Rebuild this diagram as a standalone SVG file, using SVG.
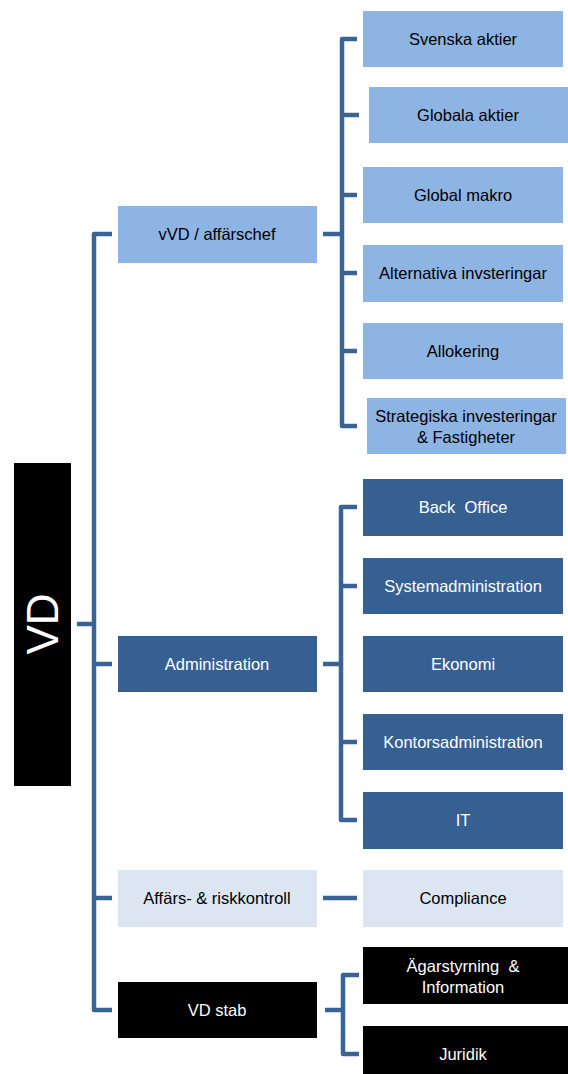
<svg xmlns="http://www.w3.org/2000/svg" width="568" height="1074" viewBox="0 0 568 1074">
<style>
.c{fill:none;stroke:#3a6395;stroke-width:4.5;stroke-linejoin:round}
.lb{fill:#8eb4e3}
.db{fill:#376092}
.gb{fill:#dce6f2}
.bk{fill:#000}
text{font-family:"Liberation Sans",Arial,sans-serif;font-size:16.5px;text-anchor:middle;dominant-baseline:central}
.dk{fill:#000}
.wt{fill:#fff}
</style>
<rect width="568" height="1074" fill="#fff"/>
<g id="connectors">
<path class="c" d="M77 624H94"/>
<path class="c" d="M112 234H94V1010H112"/>
<path class="c" d="M94 664H112"/>
<path class="c" d="M94 898H112"/>
<path class="c" d="M323 234H342"/>
<path class="c" d="M357 39H342V426H357"/>
<path class="c" d="M342 115H359"/>
<path class="c" d="M342 195H357"/>
<path class="c" d="M342 273H357"/>
<path class="c" d="M342 351H357"/>
<path class="c" d="M323 664H341"/>
<path class="c" d="M357 507H341V820H357"/>
<path class="c" d="M341 586H357"/>
<path class="c" d="M341 742H357"/>
<path class="c" d="M323 898H357"/>
<path class="c" d="M325 1010H343"/>
<path class="c" d="M359 975H343V1054H359"/>
</g>
<g id="vd"><rect class="bk" x="14" y="463" width="57" height="323"/><text class="wt" transform="translate(42 624) rotate(-90)" style="font-size:44px">VD</text></g>
<g id="vvd"><rect class="lb" x="118" y="206" width="199" height="57"/><text class="dk" x="217" y="234">vVD / affärschef</text></g>
<g id="admin"><rect class="db" x="118" y="636" width="199" height="56"/><text class="wt" x="217" y="664">Administration</text></g>
<g id="affars"><rect class="gb" x="118" y="870" width="199" height="57"/><text class="dk" x="217" y="898">Affärs- &amp; riskkontroll</text></g>
<g id="vdstab"><rect class="bk" x="118" y="982" width="199" height="56"/><text class="wt" x="217" y="1010">VD stab</text></g>
<g id="svenska"><rect class="lb" x="363" y="11" width="200" height="56"/><text class="dk" x="463" y="39">Svenska aktier</text></g>
<g id="globala"><rect class="lb" x="369" y="87" width="199" height="56"/><text class="dk" x="468" y="115">Globala aktier</text></g>
<g id="makro"><rect class="lb" x="363" y="167" width="200" height="56"/><text class="dk" x="463" y="195">Global makro</text></g>
<g id="alternativa"><rect class="lb" x="363" y="245" width="200" height="57"/><text class="dk" x="463" y="273">Alternativa invsteringar</text></g>
<g id="allokering"><rect class="lb" x="363" y="323" width="200" height="56"/><text class="dk" x="463" y="351">Allokering</text></g>
<g id="strategiska"><rect class="lb" x="367" y="398" width="199" height="56"/><text class="dk" x="466" y="416">Strategiska investeringar</text><text class="dk" x="466" y="437">&amp; Fastigheter</text></g>
<g id="backoffice"><rect class="db" x="363" y="479" width="200" height="57"/><text class="wt" x="463" y="507" xml:space="preserve">Back  Office</text></g>
<g id="sysadmin"><rect class="db" x="363" y="558" width="200" height="56"/><text class="wt" x="463" y="586">Systemadministration</text></g>
<g id="ekonomi"><rect class="db" x="363" y="636" width="200" height="56"/><text class="wt" x="463" y="664">Ekonomi</text></g>
<g id="kontors"><rect class="db" x="363" y="714" width="200" height="56"/><text class="wt" x="463" y="742">Kontorsadministration</text></g>
<g id="it"><rect class="db" x="363" y="792" width="200" height="57"/><text class="wt" x="463" y="820">IT</text></g>
<g id="compliance"><rect class="gb" x="363" y="870" width="200" height="57"/><text class="dk" x="463" y="898">Compliance</text></g>
<g id="agarstyrning"><rect class="bk" x="363" y="947" width="205" height="57"/><text class="wt" x="463" y="966" xml:space="preserve">Ägarstyrning  &amp;</text><text class="wt" x="463" y="987">Information</text></g>
<g id="juridik"><rect class="bk" x="363" y="1026" width="205" height="48"/><text class="wt" x="463" y="1054">Juridik</text></g>
</svg>
